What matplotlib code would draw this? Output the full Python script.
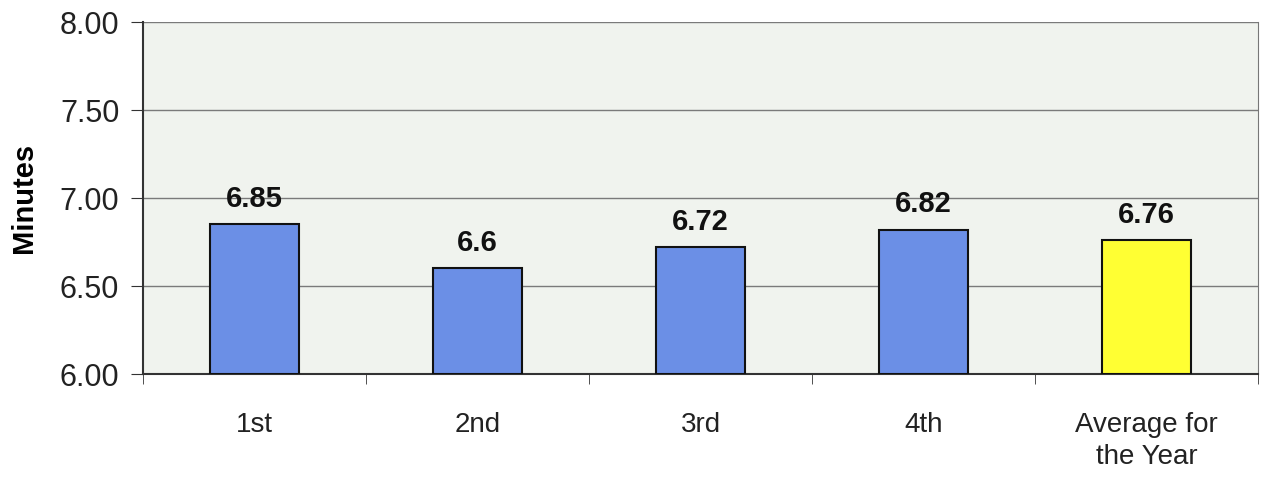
import matplotlib.pyplot as plt
from matplotlib.ticker import MultipleLocator, FixedLocator

plt.rcParams["font.family"] = ["Liberation Sans", "DejaVu Sans"]

# Data
categories = ["1st", "2nd", "3rd", "4th", "Average for\nthe Year"]
minutes = [6.85, 6.6, 6.72, 6.82, 6.76]
value_labels = ["6.85", "6.6", "6.72", "6.82", "6.76"]
bar_colors = ["#6b8fe6", "#6b8fe6", "#6b8fe6", "#6b8fe6", "#ffff33"]

fig = plt.figure(figsize=(12.62, 4.79), dpi=100)
ax = fig.add_axes([0.1133, 0.219, 0.8835, 0.735])
ax.set_facecolor("#f0f3ee")

x = range(len(categories))
bars = ax.bar(x, [v - 6.0 for v in minutes], bottom=6.0, width=0.4,
              color=bar_colors, edgecolor="#111111", linewidth=1.5, zorder=3)

for b, lab in zip(bars, value_labels):
    ax.text(b.get_x() + b.get_width() / 2, b.get_y() + b.get_height() + 0.1, lab,
            ha="center", va="baseline", fontsize=21, fontweight="bold", color="#111111")

ax.set_ylim(6.0, 8.0)
ax.set_xlim(-0.5, len(categories) - 0.5)
ax.yaxis.set_major_locator(MultipleLocator(0.5))
ax.set_yticklabels([f"{t:.2f}" for t in ax.get_yticks()])
ax.yaxis.grid(True, color="#7a7a7a", linewidth=1.0, zorder=0)

ax.set_xticks(list(x))
ax.set_xticklabels(categories, linespacing=1.3)
ax.xaxis.set_minor_locator(FixedLocator([i - 0.5 for i in range(len(categories) + 1)]))
ax.tick_params(axis="x", which="major", length=0, pad=27, labelsize=20, labelcolor="#222222")
ax.tick_params(axis="x", which="minor", length=7, color="#333333")
ax.tick_params(axis="y", length=9, pad=8, labelsize=22, labelcolor="#222222", color="#333333")

ax.set_ylabel("Minutes", fontsize=21, fontweight="bold", labelpad=16)

ax.spines["top"].set_visible(False)
ax.spines["left"].set_color("#333333")
ax.spines["left"].set_linewidth(1.5)
ax.spines["bottom"].set_color("#333333")
ax.spines["bottom"].set_linewidth(1.5)
ax.spines["right"].set_color("#777777")

fig.savefig("out.png", dpi=100, facecolor="white")
